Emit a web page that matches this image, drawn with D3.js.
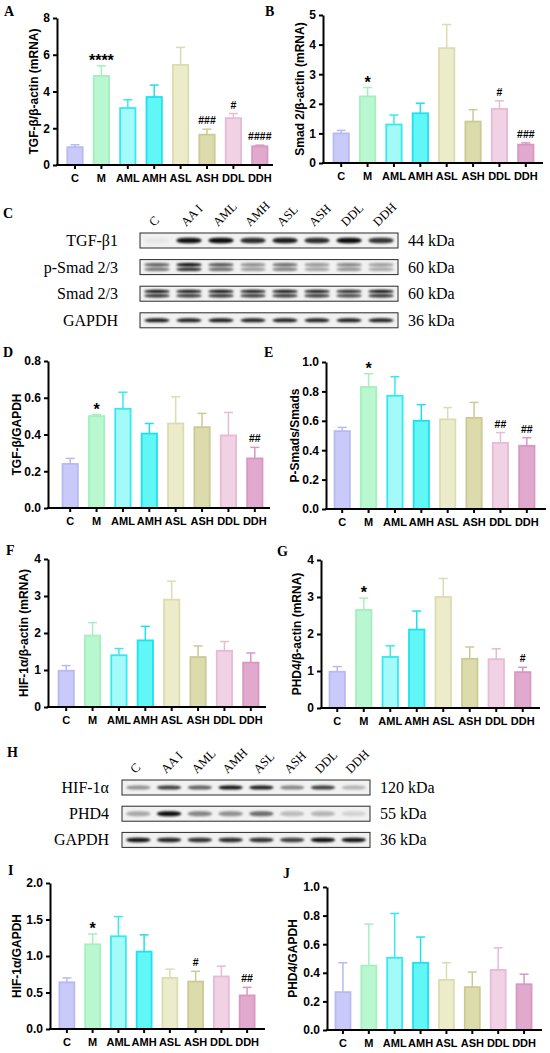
<!DOCTYPE html>
<html>
<head>
<meta charset="utf-8">
<script src="https://cdn.jsdelivr.net/npm/d3@7"></script>
<style>
  body { margin: 0; background: #fff; }
</style>
</head>
<body>
<script>
// groups on the x axis of every bar panel
const groups = ['C', 'M', 'AML', 'AMH', 'ASL', 'ASH', 'DDL', 'DDH']

// A  TGF-b mRNA
const tgfMrna = [0.97, 4.85, 3.1, 3.7, 5.45, 1.65, 2.55, 1.02]
const tgfMrnaSd = [0.13, 0.55, 0.45, 0.65, 0.95, 0.3, 0.25, 0.06]
const tgfMrnaSig = ['', '****', '', '', '', '###', '#', '####']
// B  Smad 2 mRNA
const smadMrna = [1.0, 2.25, 1.3, 1.68, 3.88, 1.4, 1.83, 0.62]
const smadMrnaSd = [0.1, 0.3, 0.32, 0.34, 0.8, 0.4, 0.27, 0.06]
const smadMrnaSig = ['', '*', '', '', '', '', '#', '###']
// D  TGF-b / GAPDH
const tgfProt = [0.24, 0.50, 0.54, 0.405, 0.46, 0.44, 0.395, 0.27]
const tgfProtSd = [0.03, 0.008, 0.09, 0.055, 0.145, 0.075, 0.125, 0.06]
const tgfProtSig = ['', '*', '', '', '', '', '', '##']
// E  P-Smads / Smads
const pSmad = [0.53, 0.83, 0.77, 0.60, 0.61, 0.62, 0.45, 0.43]
const pSmadSd = [0.025, 0.09, 0.13, 0.11, 0.08, 0.105, 0.07, 0.055]
const pSmadSig = ['', '*', '', '', '', '', '##', '##']
// F  HIF-1a mRNA
const hifMrna = [0.98, 1.93, 1.4, 1.8, 2.9, 1.35, 1.52, 1.2]
const hifMrnaSd = [0.14, 0.35, 0.18, 0.38, 0.5, 0.3, 0.25, 0.26]
const hifMrnaSig = ['', '', '', '', '', '', '', '']
// G  PHD4 mRNA
const phdMrna = [0.98, 2.65, 1.38, 2.12, 3.0, 1.33, 1.32, 0.97]
const phdMrnaSd = [0.14, 0.32, 0.3, 0.5, 0.5, 0.32, 0.28, 0.13]
const phdMrnaSig = ['', '*', '', '', '', '', '', '#']
// I  HIF-1a / GAPDH
const hifProt = [0.64, 1.16, 1.27, 1.06, 0.70, 0.65, 0.72, 0.46]
const hifProtSd = [0.06, 0.14, 0.27, 0.23, 0.12, 0.14, 0.14, 0.11]
const hifProtSig = ['', '*', '', '', '', '#', '', '##']
// J  PHD4 / GAPDH
const phdProt = [0.265, 0.45, 0.505, 0.47, 0.35, 0.30, 0.42, 0.32]
const phdProtSd = [0.205, 0.29, 0.31, 0.18, 0.12, 0.105, 0.155, 0.07]
const phdProtSig = ['', '', '', '', '', '', '', '']

// western blots: lanes and band strength (0..1)
const lanes = ['C', 'AA I', 'AML', 'AMH', 'ASL', 'ASH', 'DDL', 'DDH']
const blotRowsC = ['TGF-β1', 'p-Smad 2/3', 'Smad 2/3', 'GAPDH']
const blotKdaC = ['44 kDa', '60 kDa', '60 kDa', '36 kDa']
const tgfBlot = [0.04, 0.92, 0.95, 0.82, 0.88, 0.82, 0.95, 0.78]
const pSmadBlot = [0.6, 0.95, 0.65, 0.42, 0.55, 0.38, 0.45, 0.35]
const smadBlot = [0.92, 0.9, 0.92, 0.88, 0.9, 0.88, 0.82, 0.92]
const gapdhBlotC = [0.88, 0.86, 0.88, 0.85, 0.86, 0.86, 0.87, 0.86]
const blotRowsH = ['HIF-1α', 'PHD4', 'GAPDH']
const blotKdaH = ['120 kDa', '55 kDa', '36 kDa']
const hifBlot = [0.4, 0.75, 0.6, 0.92, 0.88, 0.45, 0.75, 0.25]
const phdBlot = [0.3, 0.95, 0.45, 0.4, 0.55, 0.22, 0.25, 0.12]
const gapdhBlotH = [0.92, 0.85, 0.8, 0.82, 0.8, 0.75, 0.95, 0.92]

const fillColor = d3.scaleOrdinal().domain(groups)
  .range(['#c9c9fa', '#b9f7d0', '#a4f9f9', '#62f7f7', '#ececcb', '#dcdbac', '#f1d1e4', '#e1a9cd'])
const lineColor = d3.scaleOrdinal().domain(groups)
  .range(['#b9b9f2', '#a6efbe', '#36e9f1', '#1fe0ee', '#dcdcb2', '#cbca96', '#e8bad4', '#d898c1'])

const sans = 'Liberation Sans, Arial, sans-serif'
const serif = 'Liberation Serif, Times New Roman, serif'

const svg = d3.select('body').append('svg').attr('width', 550).attr('height', 1053)
const defs = svg.append('defs')
defs.append('filter').attr('id', 'blur')
  .attr('x', '-20%').attr('y', '-150%').attr('width', '140%').attr('height', '400%')
  .append('feGaussianBlur').attr('stdDeviation', '1.3 0.9')

function letter(t, x, y) {
  svg.append('text').attr('x', x).attr('y', y).text(t)
    .attr('font-family', serif).attr('font-weight', 'bold').attr('font-size', 14)
}

function barPanel(o) {
  const y = d3.scaleLinear().domain([0, o.max]).range([o.bottom, o.top])
  const x = d3.scaleBand().domain(groups).range([o.left, o.right])
    .paddingInner(0.35).paddingOuter(0.175)
  const g = svg.append('g')
  const rows = groups.map((k, i) => ({ k: k, v: o.values[i], e: o.sd[i], s: o.sig[i] }))

  g.selectAll('rect.bar').data(rows).join('rect')
    .attr('x', d => x(d.k) + 0.9)
    .attr('y', d => y(d.v))
    .attr('width', x.bandwidth() - 1.8)
    .attr('height', d => o.bottom - y(d.v))
    .attr('fill', d => fillColor(d.k))
    .attr('stroke', d => lineColor(d.k))
    .attr('stroke-width', 1.8)

  const cx = d => x(d.k) + x.bandwidth() / 2
  g.selectAll('line.err').data(rows).join('line')
    .attr('x1', cx).attr('x2', cx)
    .attr('y1', d => y(d.v)).attr('y2', d => y(d.v + d.e))
    .attr('stroke', d => lineColor(d.k)).attr('stroke-width', 1.5)
  g.selectAll('line.cap').data(rows).join('line')
    .attr('x1', d => cx(d) - 4.5).attr('x2', d => cx(d) + 4.5)
    .attr('y1', d => y(d.v + d.e)).attr('y2', d => y(d.v + d.e))
    .attr('stroke', d => lineColor(d.k)).attr('stroke-width', 1.5)

  g.selectAll('text.sig').data(rows.filter(d => d.s)).join('text')
    .attr('x', cx)
    .attr('y', d => y(d.v + d.e) - (d.s[0] === '*' ? 0 : 5))
    .attr('text-anchor', 'middle')
    .attr('font-family', sans).attr('font-weight', 'bold')
    .attr('font-size', d => d.s[0] === '*' ? 16 : 10.5)
    .text(d => d.s)

  const ya = g.append('g').attr('transform', `translate(${o.axisX},0)`)
    .call(d3.axisLeft(y).tickValues(o.ticks).tickFormat(o.fmt).tickSize(4).tickSizeOuter(0).tickPadding(3))
  const xa = g.append('g').attr('transform', `translate(0,${o.bottom})`)
    .call(d3.axisBottom(x).tickSize(4).tickSizeOuter(0).tickPadding(5))
  xa.select('.domain').remove()
  g.append('line').attr('x1', o.axisX - 1).attr('x2', o.axisRight)
    .attr('y1', o.bottom).attr('y2', o.bottom).attr('stroke', '#000').attr('stroke-width', 2)
  ;[ya, xa].forEach(a => {
    a.attr('font-family', sans).attr('font-weight', 'bold')
    a.selectAll('path, line').attr('stroke', '#000').attr('stroke-width', 2)
    a.selectAll('text').attr('fill', '#000')
  })
  ya.attr('font-size', 12)
  xa.attr('font-size', 11)

  const mid = (o.top + o.bottom) / 2
  g.append('text').attr('x', o.labelX).attr('y', mid)
    .attr('transform', `rotate(-90,${o.labelX},${mid})`)
    .attr('text-anchor', 'middle')
    .attr('font-family', sans).attr('font-weight', 'bold').attr('font-size', 12)
    .text(o.label)
}

function blotPanel(o) {
  const x = d3.scaleBand().domain(d3.range(lanes.length)).range([o.x0, o.x1])
    .paddingInner(0.14).paddingOuter(0.1)
  const g = svg.append('g')
  g.selectAll('text.lane').data(lanes).join('text')
    .attr('transform', (d, i) => `translate(${x(i) + x.bandwidth() / 2 - 3},${o.top - 6}) rotate(-45)`)
    .attr('font-family', serif).attr('font-size', 12.5)
    .text(d => d)

  o.rows.forEach((name, r) => {
    const top = o.top + r * o.gap
    const mid = top + o.h / 2
    g.append('rect').attr('x', o.x0).attr('y', top).attr('width', o.x1 - o.x0).attr('height', o.h)
      .attr('fill', '#f1f1f1').attr('stroke', '#2a2a2a').attr('stroke-width', 1)
    const bands = o.bands[r]
    const double = o.double[r]
    const offs = double ? [-2.3, 2.1] : [0]
    const bh = double ? 3.4 : o.bh[r]
    offs.forEach((dy, j) => {
      g.selectAll(null).data(bands).join('rect')
        .attr('x', (d, i) => x(i) + 1)
        .attr('y', mid + dy - bh / 2)
        .attr('width', x.bandwidth() - 2)
        .attr('height', bh)
        .attr('rx', x.bandwidth() / 3).attr('ry', bh / 2)
        .attr('fill', '#050505')
        .attr('opacity', d => double && j === 1 ? d * 0.85 : d)
        .attr('filter', 'url(#blur)')
    })
    g.append('text').attr('x', o.labelX).attr('y', mid + 5.5).attr('text-anchor', 'end')
      .attr('font-family', serif).attr('font-size', 16).text(name)
    g.append('text').attr('x', o.kdaX).attr('y', mid + 5.5)
      .attr('font-family', serif).attr('font-size', 16).text(o.kda[r])
  })
}

const f1 = d3.format('d')
const f2 = d3.format('.1f')

barPanel({ values: tgfMrna, sd: tgfMrnaSd, sig: tgfMrnaSig, max: 8, ticks: [0, 2, 4, 6, 8], fmt: f1,
  axisX: 57, axisRight: 273, left: 61.8, right: 273, top: 18, bottom: 165, labelX: 38,
  label: 'TGF-β/β-actin (mRNA)' })
barPanel({ values: smadMrna, sd: smadMrnaSd, sig: smadMrnaSig, max: 5, ticks: [0, 1, 2, 3, 4, 5], fmt: f1,
  axisX: 323, axisRight: 543, left: 328, right: 539, top: 15, bottom: 163, labelX: 304,
  label: 'Smad 2/β-actin (mRNA)' })
barPanel({ values: tgfProt, sd: tgfProtSd, sig: tgfProtSig, max: 0.8, ticks: [0, 0.2, 0.4, 0.6, 0.8], fmt: f2,
  axisX: 48, axisRight: 270, left: 57, right: 268, top: 361, bottom: 508, labelX: 21,
  label: 'TGF-β/GAPDH' })
barPanel({ values: pSmad, sd: pSmadSd, sig: pSmadSig, max: 1.0, ticks: [0, 0.2, 0.4, 0.6, 0.8, 1.0], fmt: f2,
  axisX: 326, axisRight: 546, left: 329, right: 540, top: 362, bottom: 509, labelX: 299,
  label: 'P-Smads/Smads' })
barPanel({ values: hifMrna, sd: hifMrnaSd, sig: hifMrnaSig, max: 4, ticks: [0, 1, 2, 3, 4], fmt: f1,
  axisX: 48, axisRight: 266, left: 53, right: 264, top: 559, bottom: 707, labelX: 28,
  label: 'HIF-1α/β-actin (mRNA)' })
barPanel({ values: phdMrna, sd: phdMrnaSd, sig: phdMrnaSig, max: 4, ticks: [0, 1, 2, 3, 4], fmt: f1,
  axisX: 321, axisRight: 540, left: 324, right: 536, top: 560, bottom: 708, labelX: 301,
  label: 'PHD4/β-actin (mRNA)' })
barPanel({ values: hifProt, sd: hifProtSd, sig: hifProtSig, max: 2.0, ticks: [0, 0.5, 1.0, 1.5, 2.0], fmt: f2,
  axisX: 50, axisRight: 265, left: 54, right: 260, top: 883, bottom: 1029, labelX: 21,
  label: 'HIF-1α/GAPDH' })
barPanel({ values: phdProt, sd: phdProtSd, sig: phdProtSig, max: 1.0, ticks: [0, 0.2, 0.4, 0.6, 0.8, 1.0], fmt: f2,
  axisX: 327, axisRight: 542, left: 330, right: 537, top: 887, bottom: 1030, labelX: 297,
  label: 'PHD4/GAPDH' })

blotPanel({ rows: blotRowsC, kda: blotKdaC, bands: [tgfBlot, pSmadBlot, smadBlot, gapdhBlotC],
  double: [false, true, true, false], bh: [5.5, 0, 0, 4],
  x0: 140, x1: 398, top: 233, h: 15, gap: 26.6, labelX: 118, kdaX: 408 })
blotPanel({ rows: blotRowsH, kda: blotKdaH, bands: [hifBlot, phdBlot, gapdhBlotH],
  double: [false, false, false], bh: [4, 5, 4.5],
  x0: 122, x1: 370, top: 780, h: 15, gap: 26.2, labelX: 109, kdaX: 380 })

letter('A', 4, 16)
letter('B', 265, 16)
letter('C', 3, 218)
letter('D', 3, 357)
letter('E', 264, 357)
letter('F', 6, 555)
letter('G', 277, 556)
letter('H', 7, 757)
letter('I', 8, 875)
letter('J', 283, 878)
</script>
</body>
</html>
